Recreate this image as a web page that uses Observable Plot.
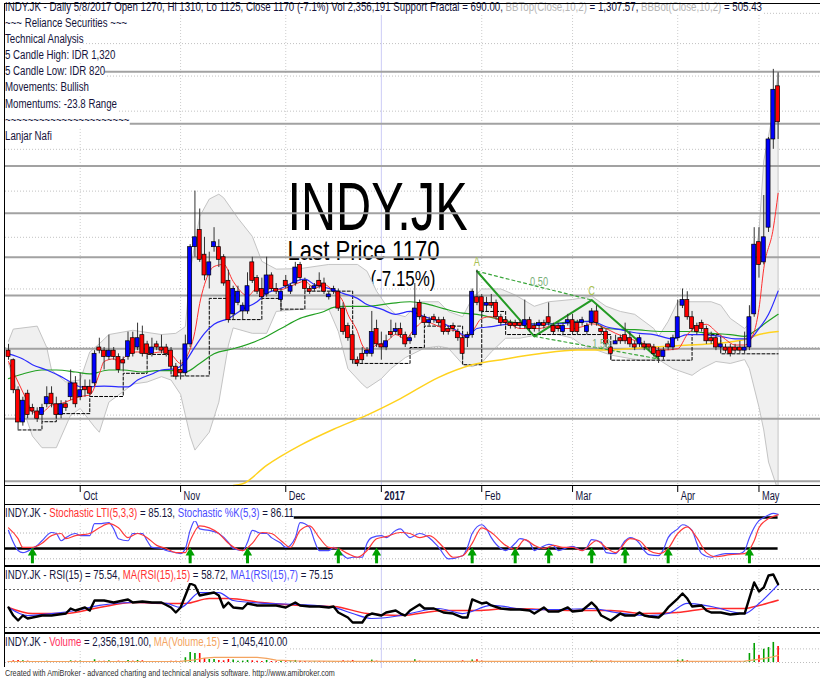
<!DOCTYPE html>
<html><head><meta charset="utf-8">
<script src="https://cdn.jsdelivr.net/npm/d3@7"></script>
<script src="https://cdn.jsdelivr.net/npm/@observablehq/plot@0.6"></script>
<style>
body{margin:0;background:#fff;}
#chart{position:relative;width:820px;height:683px;overflow:hidden;background:#fff;font-family:"Liberation Sans",Arial,sans-serif;}
.lbl{position:absolute;left:5px;white-space:pre;background:#fff;transform-origin:0 0;}
.bd{position:absolute;background:#000;}
</style></head>
<body><div id="chart"></div>
<script>
// ---------- DATA ----------
const O = [695,680,635,590,630,610,605,600,615,630,
615,600,615,625,645,625,640,640,645,700,
695,685,695,685,680,685,715,700,720,705,
690,705,700,700,695,670,665,660,705,880,
915,865,825,880,880,860,815,755,775,760,
760,850,820,800,790,825,800,780,815,795,
810,845,815,800,800,815,810,785,795,795,
765,735,720,680,690,690,690,730,705,700,
725,725,730,720,710,720,775,750,740,750,
745,745,730,735,725,715,715,720,785,785,
770,775,775,750,745,740,740,740,735,745,
735,735,740,750,735,735,725,740,745,740,
740,725,740,760,730,725,700,705,715,720,
715,705,705,705,705,700,695,685,705,700,
715,770,780,750,735,740,730,715,715,700,
700,700,700,700,695,700,755,890,850,920,
1125,1270];
const H = [705,682,640,625,635,615,610,615,640,640,
625,620,620,665,655,660,650,650,695,715,
700,720,700,690,685,725,725,740,735,710,
715,710,720,705,700,675,680,720,885,1000,
960,900,870,920,895,865,835,805,805,775,
830,860,825,820,860,830,810,800,825,810,
850,850,820,805,810,830,820,795,805,800,
775,740,725,685,700,700,760,745,725,720,
745,740,740,725,720,810,780,755,750,755,
750,750,735,740,730,720,725,800,835,790,
785,790,780,755,750,745,745,745,780,750,
740,745,745,775,740,740,740,755,755,745,
750,740,765,770,735,730,705,720,720,740,
725,710,720,710,705,705,700,700,710,720,
780,800,795,760,740,745,735,725,720,715,
705,705,705,710,725,770,920,920,990,1130,
1320,1310];
const L = [680,630,580,585,595,600,590,590,610,610,
595,595,605,620,610,620,625,625,640,690,
665,680,680,660,662,680,685,695,685,685,
685,695,690,685,665,650,650,655,700,860,
850,815,800,870,840,805,740,745,770,745,
755,810,790,780,785,795,790,760,800,790,
805,815,795,790,795,800,790,780,790,760,
720,710,675,670,675,685,685,700,680,695,
715,720,715,700,705,715,745,735,735,740,
735,720,720,725,710,680,700,715,770,750,
760,765,745,735,735,730,730,730,730,725,
725,725,730,735,720,725,720,735,720,720,
735,720,735,735,720,700,680,705,705,705,
700,695,700,695,695,685,675,680,695,695,
710,765,745,725,720,725,705,705,695,695,
690,685,690,690,690,695,750,820,845,910,
1100,1125];
const C = [685,635,590,620,600,605,595,610,625,615,
600,615,610,645,615,635,635,630,690,695,
685,695,685,665,675,710,690,715,690,690,
700,700,695,690,670,655,660,705,880,900,
855,825,850,890,855,810,745,800,795,770,
805,815,795,785,825,800,795,795,805,805,
840,820,800,795,805,805,795,790,800,765,
725,715,680,675,680,695,725,705,700,710,
720,730,720,705,715,765,750,740,745,745,
740,725,725,730,715,690,720,795,775,760,
775,770,750,740,740,735,735,735,745,730,
730,740,735,740,725,730,735,745,725,725,
745,735,760,740,725,705,690,710,710,710,
705,700,715,700,700,690,685,695,700,715,
750,780,750,730,725,730,710,710,700,705,
695,690,695,695,700,750,885,845,900,1125,
1260,1170];
// volume, thousands of shares
const VOL = [150,250,300,250,200,120,150,150,180,150,
120,120,100,250,200,200,100,120,400,180,
200,250,150,200,150,300,200,300,250,150,
150,100,120,150,200,200,150,700,1470,1320,
1320,590,440,440,300,250,450,350,200,200,
300,250,200,150,300,150,120,150,120,100,
300,200,150,100,100,120,120,100,100,150,
250,200,300,150,150,120,350,200,150,120,
120,100,120,120,100,400,200,150,100,100,
100,150,100,100,150,250,150,350,400,200,
150,120,150,120,100,80,80,80,150,100,
100,80,80,150,100,80,100,120,120,100,
100,100,250,200,120,150,200,100,100,120,
100,100,120,100,80,100,150,120,100,150,
350,400,250,150,120,100,150,100,120,100,
100,120,80,100,150,1320,2800,1030,1950,2200,
2950,2356];

const monthIdx = [15,36,58,78,99,118,140,157];
const monthLbl = ["Oct","Nov","Dec","2017","Feb","Mar","Apr","May"];
const priceGrid = [600,700,800,900,1000,1100,1200,1300,1400,1500];
const levelLines = [1313,1166,1059,951,860,788,698,595,516];

const bbUpper = [[0,710],[1,730],[6,735],[8,700],[9,665],[12,647],[15,650],[17,693],[19,706],[21,721],[26,728],[32,721],[35,723],[37,734],[38,833],[40,944],[42,982],[44,993],[45,985],[48,940],[51,902],[53,852],[56,837],[61,838],[67,846],[73,846],[75,833],[77,796],[79,771],[81,755],[83,751],[86,777],[90,777],[92,760],[95,751],[97,783],[99,800],[103,800],[106,789],[110,769],[113,777],[118,781],[122,787],[125,769],[128,760],[131,755],[135,731],[136,718],[138,743],[140,777],[147,777],[149,771],[151,748],[154,731],[155,740],[156,848],[157,912],[158,1071],[160,1201],[161,1308]];
const bbLower = [[0,675],[2,629],[5,572],[7,557],[10,557],[13,600],[15,609],[18,584],[19,577],[21,618],[24,633],[26,644],[29,647],[32,655],[34,650],[36,629],[38,572],[39,554],[42,577],[44,618],[46,704],[47,732],[51,723],[54,723],[56,760],[61,764],[67,764],[69,726],[71,667],[74,644],[75,638],[78,652],[80,667],[83,684],[87,699],[90,702],[92,699],[95,674],[97,670],[99,676],[101,693],[104,715],[107,715],[111,721],[115,721],[118,715],[120,704],[123,696],[126,688],[132,680],[136,681],[139,667],[143,657],[145,667],[148,678],[151,675],[154,681],[155,667],[157,611],[158,580],[159,539],[161,505]];

const maRed = [[0,678],[2,647],[4,618],[5,604],[7,604],[9,614],[11,616],[13,621],[15,626],[17,628],[19,659],[20,678],[22,682],[23,678],[25,689],[27,693],[29,690],[32,693],[34,689],[36,675],[37,682],[39,726],[40,774],[41,808],[43,842],[45,846],[47,814],[49,792],[50,787],[52,801],[53,796],[55,801],[57,799],[59,805],[62,814],[64,801],[66,808],[68,796],[70,777],[71,755],[73,726],[74,704],[75,696],[77,704],[79,709],[81,721],[83,714],[85,731],[87,743],[89,738],[91,731],[94,726],[95,718],[97,726],[99,748],[101,751],[103,743],[105,738],[107,731],[111,731],[113,734],[115,731],[118,731],[120,734],[122,739],[125,731],[127,723],[130,714],[133,706],[135,701],[137,696],[140,698],[142,721],[144,734],[146,738],[148,726],[150,713],[152,704],[154,704],[156,726],[157,765],[158,838],[160,919],[161,995]];
const maBlue = [[0,690],[3,682],[5,673],[8,665],[11,655],[13,647],[15,640],[17,640],[20,641],[23,640],[25,640],[27,650],[30,659],[32,665],[35,667],[37,678],[39,701],[41,723],[43,738],[46,748],[49,764],[52,777],[54,792],[57,801],[60,814],[62,818],[64,808],[67,801],[70,792],[73,783],[75,772],[78,764],[81,755],[84,760],[87,751],[90,743],[93,731],[96,718],[98,731],[101,734],[104,738],[108,739],[111,738],[115,739],[122,743],[125,734],[128,729],[132,723],[135,721],[139,714],[142,721],[145,721],[149,718],[152,714],[155,714],[157,731],[159,755],[161,796]];
const maGreen = [[0,652],[3,659],[7,665],[10,665],[14,662],[17,659],[21,665],[24,665],[28,662],[31,664],[35,664],[37,662],[40,675],[43,690],[47,698],[53,714],[57,731],[61,748],[66,760],[68,767],[70,769],[75,769],[80,774],[84,777],[87,774],[91,765],[95,757],[98,755],[103,746],[108,739],[113,739],[119,743],[122,743],[125,731],[131,729],[137,726],[142,726],[147,723],[151,721],[154,718],[156,726],[158,738],[161,755]];
const maYellow = [[47,511],[49,513],[54,535],[61,560],[68,581],[75,600],[82,623],[90,654],[97,673],[104,682],[111,690],[119,696],[126,696],[133,700],[140,703],[147,706],[154,713],[157,721],[161,726]];

const fractal = [[2,580],[7,591],[10,602],[17,626],[24,660],[29,689],[34,656],[42,783],[46,746],[53,783],[57,764],[62,796],[72,675],[84,700],[87,735],[95,673],[99,760],[104,721],[126,680],[143,721],[149,690],[161,690]];
const harmonic = [[98,833],[110,718],[122,780],[136,682]];
const harmonicPointLabels = [[98,833,"A"],[122,780,"C"]];
const harmonicRatioLabels = [[111,812,"0.50"],[124,706,"1.58"]];

const stochK = [[0,55],[1,32],[2,16],[3,12],[5,20],[6,26],[7,35],[9,51],[10,49],[11,35],[12,41],[14,49],[15,45],[17,45],[18,68],[19,68],[21,70],[22,58],[23,39],[25,35],[26,49],[28,49],[29,35],[30,22],[32,20],[33,16],[35,12],[36,10],[37,20],[38,55],[39,74],[40,58],[42,55],[44,49],[46,32],[47,20],[49,16],[50,32],[51,55],[53,49],[54,49],[55,41],[57,30],[58,22],[60,41],[61,70],[63,61],[64,35],[65,16],[67,16],[68,22],[69,16],[71,1],[72,3],[74,3],[75,30],[76,41],[78,45],[79,41],[81,55],[82,58],[83,49],[84,41],[86,49],[88,41],[90,22],[92,0],[95,6],[96,22],[97,49],[99,66],[100,58],[101,41],[103,20],[104,16],[106,30],[107,39],[109,32],[110,16],[111,20],[113,28],[114,26],[115,16],[117,22],[118,24],[120,16],[121,22],[122,37],[124,32],[125,12],[127,10],[129,35],[130,41],[132,30],[133,16],[134,8],[136,6],[137,18],[138,41],[140,58],[141,66],[143,55],[144,30],[145,10],[147,3],[148,6],[150,10],[151,10],[153,10],[154,16],[155,41],[157,74],[158,80],[159,85],[160,88],[161,86.11]];
const stochLTI = [[0,60],[2,39],[3,22],[5,22],[7,30],[9,45],[11,49],[12,39],[14,45],[17,49],[19,60],[21,68],[23,60],[25,41],[27,49],[29,41],[31,26],[33,20],[35,12],[37,12],[38,35],[40,64],[42,60],[44,49],[46,30],[49,16],[51,30],[53,51],[55,49],[57,35],[59,22],[61,55],[63,64],[65,41],[67,22],[69,20],[71,10],[73,3],[75,16],[77,39],[79,43],[82,51],[84,49],[86,41],[88,45],[91,22],[93,3],[95,6],[97,30],[99,60],[101,51],[104,26],[106,18],[108,37],[110,26],[112,20],[114,26],[116,22],[118,22],[120,16],[123,35],[125,22],[127,12],[130,39],[132,35],[134,16],[136,10],[138,20],[140,49],[142,62],[144,41],[146,12],[148,4],[151,8],[154,10],[156,35],[157,60],[159,78],[161,85.13]];
const stochLevels = [80,20];
const stochGrid = [50,0];
const stochArrows = [5,38,50,69,77,97,106,113,122,129,138,155];

const rsi = [[0,51.1],[1,42.6],[2,37.4],[3,42.6],[4,39.5],[5,40.5],[7,42.6],[9,42.6],[12,44.7],[13,50],[14,47.9],[16,51.1],[17,47.9],[18,58.4],[20,58.4],[22,56.3],[24,58.4],[25,59.5],[26,56.3],[28,57.4],[30,56.3],[32,56.3],[34,51.1],[35,45.8],[36,51.1],[38,76.3],[39,74.2],[40,63.7],[42,65.8],[43,66.8],[44,63.7],[45,51.1],[46,56.3],[47,51.1],[49,50],[50,55.3],[52,53.2],[54,53.2],[56,53.2],[58,51.1],[60,56.3],[61,53.2],[63,52.1],[65,52.1],[67,51.1],[68,52.1],[69,45.8],[71,40.5],[72,35.3],[74,35.3],[75,42.6],[76,44.7],[78,42.6],[79,45.8],[81,47.9],[82,44.7],[83,42.6],[84,47.9],[86,54.2],[87,50],[89,50],[91,45.8],[93,44.7],[95,40.5],[96,40.5],[97,59.5],[99,55.3],[100,56.3],[101,53.2],[103,50],[105,48.9],[107,48.9],[109,47.9],[110,44.7],[112,51.1],[113,46.8],[115,46.8],[117,51.1],[118,46.8],[120,47.9],[122,56.3],[123,51.1],[124,42.6],[126,37.4],[128,44.7],[129,42.6],[131,42.6],[132,45.8],[133,42.6],[134,41.6],[136,40.5],[137,44.7],[138,51.1],[140,60.5],[141,65.8],[142,60.5],[143,52.1],[145,53.2],[146,47.9],[147,45.8],[149,45.8],[151,43.7],[153,44.7],[154,44.7],[156,77.4],[157,67.9],[158,72.1],[159,84.7],[160,85.8],[161,75.54]];
const rsiMA1 = [[0,51.1],[4,42.6],[9,44.7],[14,47.9],[19,53.2],[26,56.3],[33,55.3],[36,51.1],[40,66.8],[44,66.8],[47,58.4],[54,55.3],[61,54.2],[68,51.1],[72,44.7],[76,39.5],[82,42.6],[84,44.7],[90,50],[95,44.7],[101,53.2],[109,48.9],[115,48.9],[122,50],[127,45.8],[134,42.6],[138,44.7],[142,55.3],[147,52.1],[154,44.7],[157,55.3],[161,75.15]];
const rsiMA = [[0,51.1],[5,44.7],[12,44.7],[19,51.1],[26,56.3],[33,55.3],[37,55.3],[42,60.5],[46,60.5],[53,56.3],[61,53.2],[68,52.1],[75,44.7],[82,42.6],[91,47.9],[98,47.9],[105,50],[112,48.9],[119,47.9],[126,47.9],[133,44.7],[140,45.8],[147,50],[154,50],[157,53.2],[161,58.72]];
const rsiLevels = [70,30];

const volMA = [[0,150],[36,160],[39,400],[41,650],[43,750],[52,750],[54,600],[56,350],[60,250],[70,170],[100,160],[140,170],[154,200],[156,380],[158,560],[160,850],[161,1045]];
const volGrid = [0,2000];

const headerLines = [
  [["INDY.JK - Daily 5/8/2017 Open 1270, Hi 1310, Lo 1125, Close 1170 (-7.1%) Vol 2,356,191 Support Fractal = 690.00, ","d"],["BBTop(Close,10,2)","g"],[" = 1,307.57, ","d"],["BBBot(Close,10,2)","g"],[" = 505.43","d"]],
  [["~~~ Reliance Securities ~~~","d"]],
  [["Technical Analysis","d"]],
  [["5 Candle High: IDR 1,320","d"]],
  [["5 Candle Low: IDR 820","d"]],
  [["Movements: Bullish","d"]],
  [["Momentums: -23.8 Range","d"]],
  [["~~~~~~~~~~~~~~~~~~~~~~","d"]],
  [["Lanjar Nafi","d"]]
];
const stochTitle = [["INDY.JK - ","d"],["Stochastic LTI(5,3,3)","r"],[" = 85.13, ","d"],["Stochastic %K(5,3)","b"],[" = 86.11","d"]];
const rsiTitle = [["INDY.JK - RSI(15) = 75.54, ","d"],["MA(RSI(15),15)","r"],[" = 58.72, ","d"],["MA1(RSI(15),7)","b"],[" = 75.15","d"]];
const volTitle = [["INDY.JK - ","d"],["Volume","v"],[" = 2,356,191.00, ","d"],["MA(Volume,15)","o"],[" = 1,045,410.00","d"]];
const footer = "Created with AmiBroker - advanced charting and technical analysis software. http://www.amibroker.com";

// ---------- BUILD ----------
const W = 820;
const X_DOMAIN = [-0.63, 169.87];
const FONT = "Liberation Sans, Arial, sans-serif";
const NAVY = "#14143c";
const COLORS = {d: NAVY, g: "#b4b4b4", r: "#ff3030", b: "#4a4aff", o: "#f4a460", v: "#ff3060"};
const lastIdx = O.length - 1;
const bars = O.map((o, i) => ({i, o, h: H[i], l: L[i], c: C[i], vol: VOL[i]}));
const up = bars.filter(b => b.c >= b.o), dn = bars.filter(b => b.c < b.o);
const pts = a => a.map(([i, v]) => ({i, v}));
const months = monthIdx.map((i, k) => ({i, label: monthLbl[k], year: /^\d{4}$/.test(monthLbl[k])}));
const gridX = (mt, mb) => [
  Plot.ruleX(months.filter(m => !m.year), {x: "i", stroke: "#cdcdcd", strokeDasharray: "1,2", insetTop: -mt, insetBottom: -mb}),
  Plot.ruleX(months.filter(m => m.year), {x: "i", stroke: "#cbcbf6", insetTop: -mt, insetBottom: -mb})
];
const band = [...pts(bbUpper), ...pts(bbLower).reverse()];
const hp = pts(harmonic);
const style = {background: "transparent", fontFamily: FONT, overflow: "visible"};

const main = Plot.plot({
  width: W, height: 505, marginTop: 3, marginBottom: 20, marginLeft: 5, marginRight: 0,
  x: {domain: X_DOMAIN, axis: null},
  y: {type: "log", domain: [511, 1534], axis: null},
  style,
  marks: [
    Plot.ruleY(priceGrid, {stroke: "#c2c2c2", strokeDasharray: "1,2"}),
    ...gridX(0, 0),
    Plot.text(["INDY.JK"], {frameAnchor: "top-left", dx: 282, dy: 226, lineAnchor: "bottom", textAnchor: "start", fontSize: 68, fill: "#000"}),
    Plot.text(["Last Price 1170"], {frameAnchor: "top-left", dx: 282, dy: 256, lineAnchor: "bottom", textAnchor: "start", fontSize: 28, fill: "#000"}),
    Plot.text(["-90 (-7.15%)"], {frameAnchor: "top-left", dx: 430, dy: 282, lineAnchor: "bottom", textAnchor: "end", fontSize: 22, fill: "#000"}),
    Plot.line(band, {x: "i", y: "v", fill: "#f0f0f0", stroke: "#c4c4c4", strokeWidth: 1, clip: true}),
    Plot.ruleY(levelLines, {stroke: "#a2a2a2", strokeWidth: 2}),
    Plot.line(pts(fractal), {x: "i", y: "v", curve: "step-after", stroke: "#000", strokeWidth: 1, strokeDasharray: "3,2"}),
    Plot.line(pts(maYellow), {x: "i", y: "v", curve: "monotone-x", stroke: "#ffd21e", strokeWidth: 1.5}),
    Plot.line(pts(maGreen), {x: "i", y: "v", curve: "monotone-x", stroke: "#22a022", strokeWidth: 1.2}),
    Plot.line(pts(maBlue), {x: "i", y: "v", curve: "monotone-x", stroke: "#2a2aff", strokeWidth: 1.2}),
    Plot.line(pts(maRed), {x: "i", y: "v", curve: "monotone-x", stroke: "#ff3030", strokeWidth: 1}),
    Plot.line([hp[0], hp[2]], {x: "i", y: "v", stroke: "#3aa63a", strokeWidth: 1.2, strokeDasharray: "3,3"}),
    Plot.line([hp[1], hp[3]], {x: "i", y: "v", stroke: "#3aa63a", strokeWidth: 1.2, strokeDasharray: "3,3"}),
    Plot.line(hp, {x: "i", y: "v", stroke: "#239a23", strokeWidth: 2}),
    Plot.ruleX(bars, {x: "i", y1: "l", y2: "h", stroke: "#333", strokeWidth: 1}),
    Plot.rect(up, {x1: d => d.i - 0.42, x2: d => d.i + 0.42, y1: "o", y2: "c", fill: "#0000ff", stroke: "#000", strokeWidth: 0.7}),
    Plot.rect(dn, {x1: d => d.i - 0.42, x2: d => d.i + 0.42, y1: "o", y2: "c", fill: "#ff0000", stroke: "#000", strokeWidth: 0.7}),
    Plot.text(harmonicPointLabels, {x: d => d[0], y: d => d[1], text: d => d[2], dy: -9, fontSize: 12, fill: "#a8c050"}),
    Plot.text(harmonicRatioLabels, {x: d => d[0], y: d => d[1], text: d => d[2], fontSize: 12, fill: "#7ab07a"}),
    Plot.ruleX(months, {x: "i", stroke: "#000", insetTop: 476, dy: 7}),
    Plot.text(months.filter(m => !m.year), {x: "i", text: "label", frameAnchor: "bottom", lineAnchor: "bottom", dy: 14, dx: 3, textAnchor: "start", fontSize: 12, fill: NAVY}),
    Plot.text(months.filter(m => m.year), {x: "i", text: "label", frameAnchor: "bottom", lineAnchor: "bottom", dy: 14, dx: 3, textAnchor: "start", fontSize: 12, fontWeight: "bold", fill: NAVY})
  ]
});

const stoch = Plot.plot({
  width: W, height: 61, marginTop: 1.7, marginBottom: 7.7, marginLeft: 5, marginRight: 0,
  x: {domain: X_DOMAIN, axis: null}, y: {domain: [0, 100], axis: null}, style,
  marks: [
    ...gridX(1.7, 7.7),
    Plot.ruleY(stochGrid, {stroke: "#b4b4b4", strokeDasharray: "1,2"}),
    Plot.ruleY(stochLevels, {x1: X_DOMAIN[0], x2: lastIdx, stroke: "#000", strokeWidth: 2.5}),
    Plot.line(pts(stochK), {x: "i", y: "v", curve: "monotone-x", stroke: "#4a4aff", strokeWidth: 1.2}),
    Plot.line(pts(stochLTI), {x: "i", y: "v", curve: "monotone-x", stroke: "#ff3a3a", strokeWidth: 1.2}),
    Plot.ruleX(stochArrows, {x: d => d, insetTop: 45, insetBottom: -5, stroke: "#00a000", strokeWidth: 3}),
    Plot.dot(stochArrows, {x: d => d, frameAnchor: "bottom", dy: -6, symbol: "triangle", r: 3.4, fill: "#00a000"})
  ]
});

const rsiPlot = Plot.plot({
  width: W, height: 67, marginTop: 23, marginBottom: 6, marginLeft: 5, marginRight: 0,
  x: {domain: X_DOMAIN, axis: null}, y: {domain: [30, 70], axis: null}, style,
  marks: [
    ...gridX(23, 6),
    Plot.ruleY(rsiLevels, {stroke: "#666", strokeDasharray: "2,2"}),
    Plot.line(pts(rsiMA), {x: "i", y: "v", curve: "monotone-x", stroke: "#ff2a2a", strokeWidth: 1.5}),
    Plot.line(pts(rsiMA1), {x: "i", y: "v", curve: "monotone-x", stroke: "#3a3aff", strokeWidth: 1.2}),
    Plot.line(pts(rsi), {x: "i", y: "v", stroke: "#000", strokeWidth: 2.4})
  ]
});

const volPlot = Plot.plot({
  width: W, height: 35, marginTop: 9, marginBottom: 6, marginLeft: 5, marginRight: 0,
  x: {domain: X_DOMAIN, axis: null}, y: {domain: [0, 2940], axis: null}, style,
  marks: [
    ...gridX(9, 6),
    Plot.ruleY(volGrid, {stroke: "#bdbdbd", strokeDasharray: "1,2"}),
    Plot.ruleX(up, {x: "i", y1: 0, y2: "vol", stroke: "#00a000", strokeWidth: 1.6}),
    Plot.ruleX(dn, {x: "i", y1: 0, y2: "vol", stroke: "#ff0000", strokeWidth: 1.6}),
    Plot.line(pts(volMA), {x: "i", y: "v", stroke: "#f4a460", strokeWidth: 1.2})
  ]
});

const chart = document.getElementById("chart");
[[main, 0], [stoch, 505], [rsiPlot, 566], [volPlot, 633]].forEach(([svg, top]) => {
  svg.style.position = "absolute"; svg.style.left = "0px"; svg.style.top = top + "px";
  chart.appendChild(svg);
});

// condense text horizontally (reference is horizontally compressed)
const squeezeFactor = {"INDY.JK": 0.715, "Last Price 1170": 0.79};
[main, stoch, rsiPlot, volPlot].forEach(svg => {
  svg.querySelectorAll("text").forEach(t => {
    const len = t.getComputedTextLength();
    const k = squeezeFactor[t.textContent] || 0.77;
    if (len > 0) { t.setAttribute("textLength", (len * k).toFixed(1)); t.setAttribute("lengthAdjust", "spacingAndGlyphs"); }
  });
});

function addLabel(segs, baseline, size, k, bg) {
  const d = document.createElement("div");
  d.className = "lbl";
  d.style.fontSize = size + "px";
  d.style.lineHeight = (size * 1.117).toFixed(2) + "px";
  d.style.top = (baseline - 0.905 * size).toFixed(2) + "px";
  d.style.transform = `scaleX(${k})`;
  if (!bg) d.style.background = "transparent";
  segs.forEach(([t, c]) => {
    const s = document.createElement("span");
    s.textContent = t; s.style.color = COLORS[c] || c;
    d.appendChild(s);
  });
  chart.appendChild(d);
}
headerLines.forEach((segs, k) => addLabel(segs, 12.3 + k * 16.1, 12.5, 0.775, true));
addLabel(stochTitle, 518, 12.5, 0.77, true);
addLabel(rsiTitle, 580, 12.5, 0.77, true);
addLabel(volTitle, 647, 12.5, 0.77, true);
addLabel([[footer, "#303030"]], 677, 9.5, 0.76, false);

// pane borders
[[4, 3, 816, 1], [4, 3, 1, 664], [4, 485, 816, 1], [4, 504, 816, 1], [4, 565, 816, 2], [4, 632, 816, 2]].forEach(([x, y, w, h]) => {
  const b = document.createElement("div");
  b.className = "bd";
  Object.assign(b.style, {left: x + "px", top: y + "px", width: w + "px", height: h + "px"});
  chart.appendChild(b);
});
</script></body></html>
